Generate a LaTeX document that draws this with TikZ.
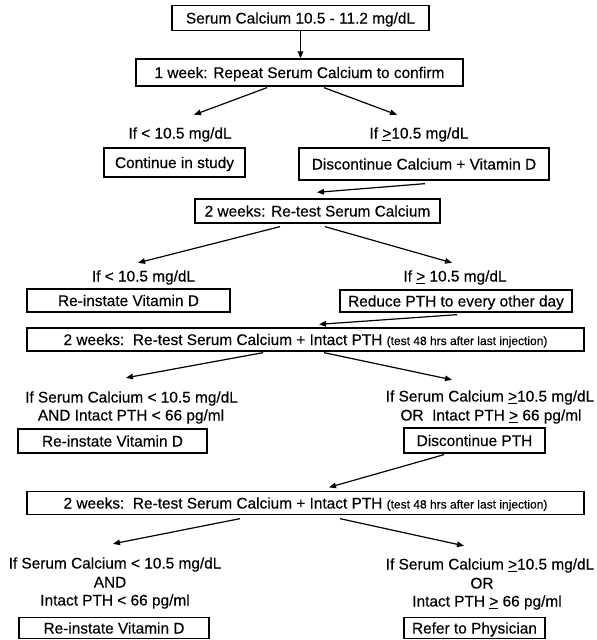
\documentclass[tikz,border=0pt]{standalone}
\usepackage{fontspec}
\setmainfont{Liberation Sans}[FakeBold=0.35]
\usetikzlibrary{arrows.meta,calc}
\newcommand{\geu}{\underline{>}}
\newcommand{\smalltxt}[1]{{\fontsize{12}{14}\selectfont #1}}
\begin{document}
\begin{tikzpicture}[x=1pt,y=-1pt,
  every node/.style={font=\fontsize{15.4}{18}\selectfont, inner sep=0pt, text height=11pt, text depth=0pt},
  box/.style={draw, line width=1.3pt},
  arr/.style={line width=1.2pt, -{Triangle[length=7pt,width=5.5pt]}}]
\useasboundingbox (0,0) rectangle (597,640);

% level 1
\node[box, minimum width=257pt, minimum height=25pt] (b1) at (300.5,18) {Serum Calcium 10.5 - 11.2 mg/dL};
\node[box, minimum width=327pt, minimum height=27pt] (b2) at (299.5,72.5) {1 week: Repeat Serum Calcium to confirm};
\node (t1l) at (180,133) {If < 10.5 mg/dL};
\node (t1r) at (419,133) {If \geu10.5 mg/dL};
\node[box, minimum width=141pt, minimum height=29pt] (b3l) at (174.5,162.5) {Continue in study};
\node[box, minimum width=250pt, minimum height=32pt] (b3r) at (424,164) {Discontinue Calcium + Vitamin D};

% level 2
\node[box, minimum width=245pt, minimum height=24pt] (b4) at (317.5,211) {2 weeks: Re-test Serum Calcium};
\node (t2l) at (143.5,276) {If < 10.5 mg/dL};
\node (t2r) at (455,276) {If \geu\ 10.5 mg/dL};
\node[box, minimum width=203pt, minimum height=23pt] (b5l) at (128.5,300.5) {Re-instate Vitamin D};
\node[box, minimum width=232pt, minimum height=22pt] (b5r) at (456,301) {Reduce PTH to every other day};

% level 3
\node[box, minimum width=557pt, minimum height=23pt] (b6) at (305.5,339.5) {2 weeks:\ \ Re-test Serum Calcium + Intact PTH \smalltxt{(test 48 hrs after last injection)}};
\node (t3l1) at (131.5,397) {If Serum Calcium < 10.5 mg/dL};
\node (t3l2) at (131,415) {AND Intact PTH < 66 pg/ml};
\node (t3r1) at (490,396) {If Serum Calcium \geu10.5 mg/dL};
\node (t3r2) at (491,415) {OR\ \ Intact PTH \geu\ 66 pg/ml};
\node[box, minimum width=189pt, minimum height=24pt] (b7l) at (112.5,441) {Re-instate Vitamin D};
\node[box, minimum width=141pt, minimum height=25pt] (b7r) at (474.5,440.5) {Discontinue PTH};

% level 4
\node[box, minimum width=557pt, minimum height=23pt] (b8) at (305.5,503) {2 weeks:\ \ Re-test Serum Calcium + Intact PTH \smalltxt{(test 48 hrs after last injection)}};
\node (t4l1) at (115,563) {If Serum Calcium < 10.5 mg/dL};
\node (t4l2) at (110,582) {AND};
\node (t4l3) at (115,600) {Intact PTH < 66 pg/ml};
\node (t4r1) at (490,564) {If Serum Calcium \geu10.5 mg/dL};
\node (t4r2) at (482,583) {OR};
\node (t4r3) at (487,601) {Intact PTH \geu\ 66 pg/ml};
\node[box, minimum width=190pt, minimum height=21pt] (b9l) at (114,628) {Re-instate Vitamin D};
\node[box, minimum width=141pt, minimum height=21pt] (b9r) at (474.5,628) {Refer to Physician};

% connectors
\draw[arr] (b1.south) -- (b1.south |- b2.north);
\draw[arr] ($(b2.south)+(-32.5,1)$) -- ($(t1l.north)+(14,-12.5)$);
\draw[arr] ($(b2.south)+(24.5,1)$) -- ($(t1r.north)+(-22,-12.5)$);
\draw[arr] ($(b3r.south)+(1,3)$) -- ($(b4.north)+(-0.5,-6)$);
\draw[arr] ($(b4.south)+(-37.5,3)$) -- ($(t2l.north)+(-5.5,-7.5)$);
\draw[arr] ($(b4.south)+(7.5,3)$) -- ($(t2r.north)+(-3,-7.5)$);
\draw[arr] ($(b5r.south)+(1,2)$) -- ($(b6.north)+(13.5,-3)$);
\draw[arr] ($(b6.south)+(-42.5,1)$) -- ($(t3l1.north)+(-5.5,-13.5)$);
\draw[arr] ($(b6.south)+(18.5,1)$) -- ($(t3r1.north)+(-38,-10.5)$);
\draw[arr] ($(b7r.south)+(-30.5,1)$) -- ($(b8.north)+(23.5,-3.5)$);
\draw[arr] ($(b8.south)+(-65.5,3.5)$) -- ($(t4l1.north)+(-2,-13.5)$);
\draw[arr] ($(b8.south)+(34.5,3.5)$) -- ($(t4r1.north)+(-26,-12.5)$);
\end{tikzpicture}
\end{document}
